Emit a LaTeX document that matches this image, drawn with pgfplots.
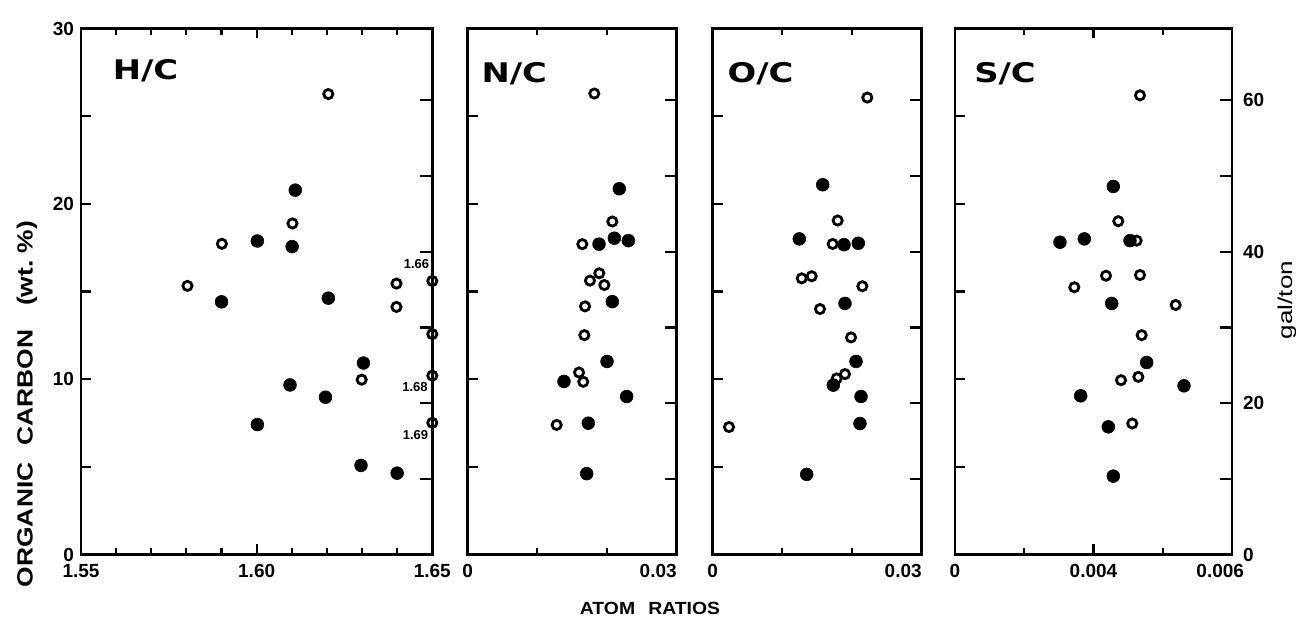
\documentclass[border=0pt]{standalone}
\usepackage{pgfplots}
\pgfplotsset{compat=1.18}
\usepackage{fontspec}
\setmainfont{Liberation Sans}
\newfontfamily\heavy{DejaVu Sans}
\usepackage{graphicx}

\pgfplotsset{
  panel/.style={scale only axis, anchor=south west, height=263pt, ymin=0, ymax=30,
    axis line style={line width=1.3pt},
    ytick pos=left, xtick pos=both, xticklabel pos=lower, tick align=inside,
    every tick/.style={black, line width=1.1pt}, major tick length=5pt, minor tick length=3.3pt,
    ticklabel style={font=\bfseries\fontsize{9.5}{10}\selectfont},
    xticklabel style={yshift=-1.5pt},
    scaled x ticks=false, scaled y ticks=false, clip=false},
  gal/.style={scale only axis, anchor=south west, height=263pt, ymin=0, ymax=69.5, xmin=0, xmax=1,
    axis x line=none, axis y line*=right, axis line style={line width=1.3pt, -},
    tick align=inside,
    every tick/.style={black, line width=1.1pt}, major tick length=6pt, minor tick length=6pt,
    ytick={10,20,...,60}, yticklabels={},
    ticklabel style={font=\bfseries\fontsize{9.5}{10}\selectfont}},
  opn/.style={only marks, mark=o, mark size=2.3pt, mark options={line width=1.4pt, draw=black}},
  fil/.style={only marks, mark=*, mark size=3.2pt, mark options={draw=black, fill=black, line width=0.3pt}},
}

\begin{document}
\begin{tikzpicture}
\useasboundingbox (0,0) rectangle (648pt,312pt);

% ---------------- H/C ----------------
\begin{axis}[panel, at={(40.5pt,34.75pt)}, width=175.65pt,
  xmin=1.55, xmax=1.65, xtick={1.55,1.60,1.65}, xticklabels={1.55,1.60,1.65},
  minor xtick={1.56,1.57,1.58,1.59,1.61,1.62,1.63,1.64},
  ytick={0,5,...,30}, yticklabels={0,,10,,20,,30}]
\addplot[opn] coordinates {(1.5803,15.32) (1.5901,17.72) (1.6102,18.88) (1.6204,26.26) (1.6299,9.97)
  (1.6398,15.45) (1.6398,14.12) (1.65,15.6) (1.65,12.57) (1.65,10.2) (1.65,7.51)};
\addplot[fil] coordinates {(1.5900,14.41) (1.6002,17.88) (1.6002,7.41) (1.6095,9.67) (1.6101,17.56)
  (1.6110,20.78) (1.6196,8.97) (1.6204,14.62) (1.6304,10.92) (1.6297,5.08) (1.6400,4.64)};
\end{axis}
\begin{axis}[gal, at={(40.5pt,34.75pt)}, width=175.65pt]
\addplot[draw=none] coordinates {(0,0)};
\end{axis}

% ---------------- N/C ----------------
\begin{axis}[panel, at={(233.85pt,34.75pt)}, width=104.5pt,
  xmin=0, xmax=0.03, xtick={0,0.03}, xticklabels={0,\llap{0.03}},
  minor xtick={0.01,0.02},
  ytick={5,10,...,25}, yticklabels={}]
\addplot[opn] coordinates {(0.01817,26.29) (0.02076,18.99) (0.01645,17.70) (0.01889,16.04) (0.01755,15.62)
  (0.01961,15.37) (0.01684,14.15) (0.01674,12.51) (0.01598,10.38) (0.01659,9.85) (0.01277,7.39)};
\addplot[fil] coordinates {(0.02176,20.86) (0.01885,17.70) (0.02105,18.04) (0.02306,17.90) (0.02076,14.42)
  (0.0200,11.01) (0.01382,9.87) (0.02282,9.01) (0.01731,7.49) (0.01708,4.61)};
\end{axis}
\begin{axis}[gal, at={(233.85pt,34.75pt)}, width=104.5pt]
\addplot[draw=none] coordinates {(0,0)};
\end{axis}

% ---------------- O/C ----------------
\begin{axis}[panel, at={(356.35pt,34.75pt)}, width=104.5pt,
  xmin=0, xmax=0.03, xtick={0,0.03}, xticklabels={0,\llap{0.03}},
  minor xtick={0.01,0.02},
  ytick={5,10,...,25}, yticklabels={}]
\addplot[opn] coordinates {(0.02219,26.06) (0.01794,19.05) (0.01722,17.71) (0.01278,15.75) (0.01421,15.87)
  (0.02148,15.30) (0.0154,14.0) (0.01985,12.38) (0.01899,10.29) (0.0178,10.04) (0.00234,7.27)};
\addplot[fil] coordinates {(0.01579,21.09) (0.01243,18.0) (0.01885,17.67) (0.0209,17.75) (0.01899,14.32)
  (0.02057,11.01) (0.01731,9.66) (0.02129,9.01) (0.02114,7.47) (0.01349,4.57)};
\end{axis}
\begin{axis}[gal, at={(356.35pt,34.75pt)}, width=104.5pt]
\addplot[draw=none] coordinates {(0,0)};
\end{axis}

% ---------------- S/C ----------------
\begin{axis}[panel, at={(477.5pt,34.75pt)}, width=138.5pt,
  xmin=0, xmax=0.008, xtick={0,0.004,0.008}, xticklabels={0,0.004,\llap{0.006\kern-6pt}},
  minor xtick={0.002,0.006},
  ytick={5,10,...,25}, yticklabels={}]
\addplot[opn] coordinates {(0.005343,26.19) (0.004716,19.01) (0.005246,17.90) (0.004361,15.9) (0.005343,15.94)
  (0.003446,15.24) (0.006374,14.23) (0.005392,12.51) (0.005295,10.13) (0.004795,9.94) (0.00512,7.47)};
\addplot[fil] coordinates {(0.004572,20.99) (0.003032,17.81) (0.003735,18.0) (0.005054,17.90) (0.004525,14.32)
  (0.005536,10.95) (0.006614,9.62) (0.00363,9.05) (0.004428,7.28) (0.004572,4.47)};
\end{axis}
\begin{axis}[gal, at={(477.5pt,34.75pt)}, width=138.5pt,
  ytick={0,20,40,60}, yticklabels={0,20,40,60}, minor ytick={10,30,50},
  yticklabel style={xshift=2pt}]
\addplot[draw=none] coordinates {(0,0)};
\end{axis}

% ---------------- texts ----------------
\node[font=\heavy\bfseries\fontsize{13.5}{16}\selectfont] at (72.75pt,276.85pt) {\scalebox{1.25}[1]{H/C}};
\node[font=\heavy\bfseries\fontsize{13.5}{16}\selectfont] at (257.1pt,275.35pt) {\scalebox{1.25}[1]{N/C}};
\node[font=\heavy\bfseries\fontsize{13.5}{16}\selectfont] at (380.25pt,275.35pt) {\scalebox{1.25}[1]{O/C}};
\node[font=\heavy\bfseries\fontsize{13.5}{16}\selectfont] at (502.5pt,275.35pt) {\scalebox{1.25}[1]{S/C}};

\node[font=\bfseries\fontsize{6.5}{7}\selectfont, inner sep=0pt] at (208.25pt,180pt) {1.66};
\node[font=\bfseries\fontsize{6.5}{7}\selectfont, inner sep=0pt] at (207.5pt,118.5pt) {1.68};
\node[font=\bfseries\fontsize{6.5}{7}\selectfont, inner sep=0pt] at (207.75pt,94.5pt) {1.69};

\node[font=\bfseries\fontsize{8.8}{10}\selectfont] at (325pt,8pt) {\scalebox{1.1}[1]{ATOM\hspace{6pt}RATIOS}};
\node[rotate=90, font=\bfseries\fontsize{11}{12}\selectfont] at (13.5pt,110pt)
  {\scalebox{1.2}[1]{ORGANIC\hspace{7pt}CARBON\hspace{10pt}(wt.~\%)}};
\node[rotate=90, font=\fontsize{10}{12}\selectfont] at (643.5pt,162pt) {\scalebox{1.3}[1]{gal/ton}};
\end{tikzpicture}
\end{document}
